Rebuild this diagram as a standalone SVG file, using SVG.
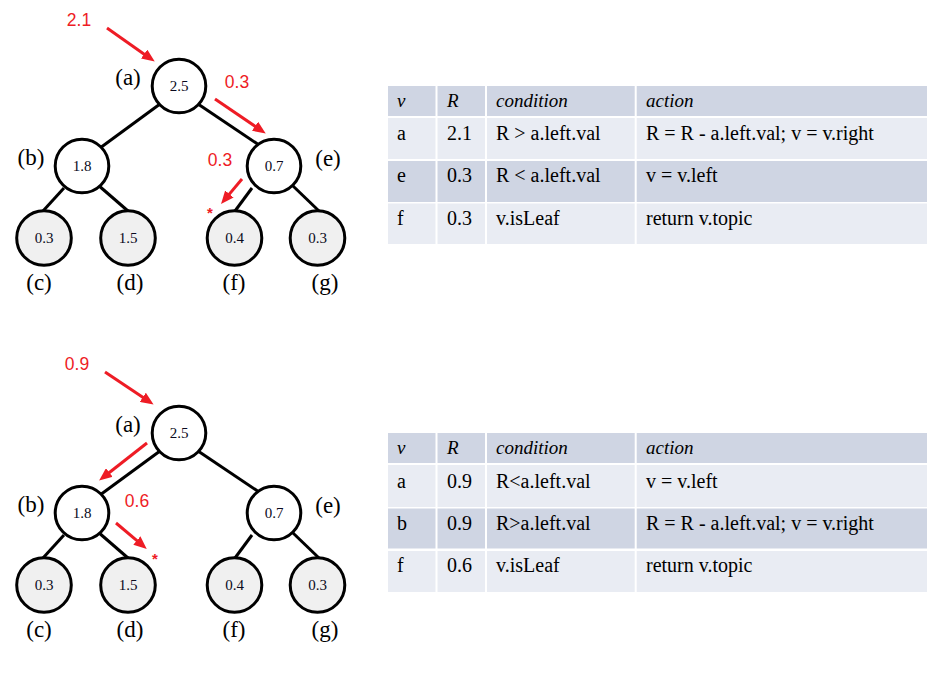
<svg xmlns="http://www.w3.org/2000/svg" width="945" height="695" viewBox="0 0 945 695">
<style>
.node{fill:#ffffff;stroke:#000000;stroke-width:3}
.leaf{fill:#f0f0f0;stroke:#000000;stroke-width:3}
.edge{stroke:#000000;stroke-width:3;fill:none}
.val{font-family:"Liberation Serif",serif;font-size:15px;fill:#0a0a20;text-anchor:middle}
.lbl{font-family:"Liberation Serif",serif;font-size:23px;fill:#000000;text-anchor:middle}
.red{font-family:"Liberation Sans",Arial,sans-serif;font-size:17.5px;fill:#ee1c25;text-anchor:middle}
.star{font-family:"Liberation Sans",Arial,sans-serif;font-size:15px;font-weight:bold;fill:#ee1c25;text-anchor:middle}
.arrow{stroke:#ee1c25;stroke-width:3;fill:none;marker-end:url(#ah)}
.hdr{fill:#cfd5e3}
.lt{fill:#e9ecf3}
.dk{fill:#cfd5e3}
.sep{fill:#ffffff}
.tx{font-family:"Liberation Serif",serif;font-size:20px;fill:#000000}
.th{font-family:"Liberation Serif",serif;font-size:19px;font-style:italic;fill:#000000}
</style>
<defs>
<marker id="ah" markerUnits="userSpaceOnUse" markerWidth="13" markerHeight="11" refX="4" refY="5.5" orient="auto">
<path d="M0,0 L13,5.5 L0,11 z" fill="#ee1c25"/>
</marker>
</defs>
<rect x="0" y="0" width="945" height="695" fill="#ffffff"/>

<!-- TOP TREE -->
<g id="connectors-top">
<line class="edge" x1="160" y1="104" x2="100" y2="148"/>
<line class="edge" x1="198" y1="104" x2="265" y2="149"/>
<line class="edge" x1="64" y1="188" x2="43" y2="211"/>
<line class="edge" x1="98" y1="185" x2="128" y2="211"/>
<line class="edge" x1="252" y1="188" x2="235" y2="211"/>
<line class="edge" x1="293" y1="186" x2="319" y2="211"/>
</g>
<g id="top-a"><circle class="node" cx="179" cy="86" r="26.8"/><text class="val" x="179" y="91">2.5</text><text class="lbl" x="128" y="85">(a)</text></g>
<g id="top-b"><circle class="node" cx="82" cy="166" r="26.8"/><text class="val" x="82" y="171">1.8</text><text class="lbl" x="31" y="165">(b)</text></g>
<g id="top-e"><circle class="node" cx="274" cy="166" r="26.8"/><text class="val" x="274" y="171">0.7</text><text class="lbl" x="328" y="166">(e)</text></g>
<g id="top-c"><circle class="leaf" cx="44" cy="238" r="27.3"/><text class="val" x="44" y="243">0.3</text><text class="lbl" x="39" y="290">(c)</text></g>
<g id="top-d"><circle class="leaf" cx="128" cy="238" r="27.3"/><text class="val" x="128" y="243">1.5</text><text class="lbl" x="130" y="290">(d)</text></g>
<g id="top-f"><circle class="leaf" cx="234.5" cy="238" r="27.3"/><text class="val" x="234.5" y="243">0.4</text><text class="lbl" x="234" y="290">(f)</text></g>
<g id="top-g"><circle class="leaf" cx="317.5" cy="238" r="27.3"/><text class="val" x="317.5" y="243">0.3</text><text class="lbl" x="325" y="290">(g)</text></g>
<g id="top-annotations">
<line class="arrow" x1="107" y1="28" x2="147.4" y2="56.4"/>
<line class="arrow" x1="215" y1="99" x2="258.3" y2="128.5"/>
<line class="arrow" x1="242" y1="179" x2="226.8" y2="197.1"/>
<text class="red" x="79" y="26">2.1</text>
<text class="red" x="237" y="88">0.3</text>
<text class="red" x="220" y="166">0.3</text>
<text class="star" x="210" y="218">*</text>
</g>

<!-- BOTTOM TREE -->
<g id="connectors-bottom">
<line class="edge" x1="160" y1="451" x2="100" y2="495"/>
<line class="edge" x1="198" y1="451" x2="265" y2="496"/>
<line class="edge" x1="64" y1="535" x2="43" y2="558"/>
<line class="edge" x1="98" y1="532" x2="128" y2="558"/>
<line class="edge" x1="252" y1="535" x2="235" y2="558"/>
<line class="edge" x1="293" y1="533" x2="319" y2="558"/>
</g>
<g id="bot-a"><circle class="node" cx="179" cy="433" r="26.8"/><text class="val" x="179" y="438">2.5</text><text class="lbl" x="128" y="432">(a)</text></g>
<g id="bot-b"><circle class="node" cx="82" cy="513" r="26.8"/><text class="val" x="82" y="518">1.8</text><text class="lbl" x="31" y="512">(b)</text></g>
<g id="bot-e"><circle class="node" cx="274" cy="513" r="26.8"/><text class="val" x="274" y="518">0.7</text><text class="lbl" x="328" y="513">(e)</text></g>
<g id="bot-c"><circle class="leaf" cx="44" cy="585" r="27.3"/><text class="val" x="44" y="590">0.3</text><text class="lbl" x="39" y="637">(c)</text></g>
<g id="bot-d"><circle class="leaf" cx="128" cy="585" r="27.3"/><text class="val" x="128" y="590">1.5</text><text class="lbl" x="130" y="637">(d)</text></g>
<g id="bot-f"><circle class="leaf" cx="234.5" cy="585" r="27.3"/><text class="val" x="234.5" y="590">0.4</text><text class="lbl" x="234" y="637">(f)</text></g>
<g id="bot-g"><circle class="leaf" cx="317.5" cy="585" r="27.3"/><text class="val" x="317.5" y="590">0.3</text><text class="lbl" x="325" y="637">(g)</text></g>
<g id="bottom-annotations">
<line class="arrow" x1="105" y1="372" x2="146.1" y2="399.5"/>
<line class="arrow" x1="147" y1="443" x2="106.2" y2="475"/>
<line class="arrow" x1="116" y1="523" x2="139.9" y2="543.1"/>
<text class="red" x="77" y="370">0.9</text>
<text class="red" x="137" y="507">0.6</text>
<text class="star" x="155" y="564">*</text>
</g>

<!-- TOP TABLE -->
<g id="table-top">
<rect class="hdr" x="388" y="86" width="539" height="30"/>
<rect class="lt" x="388" y="118" width="539" height="41"/>
<rect class="dk" x="388" y="161" width="539" height="41"/>
<rect class="lt" x="388" y="203.5" width="539" height="40.5"/>
<rect class="sep" x="435.5" y="86" width="2" height="158"/>
<rect class="sep" x="485" y="86" width="2" height="158"/>
<rect class="sep" x="634.7" y="86" width="2" height="158"/>
<text class="th" x="397" y="106.7">v</text>
<text class="th" x="447" y="106.7">R</text>
<text class="th" x="496" y="106.7">condition</text>
<text class="th" x="646" y="106.7">action</text>
<text class="tx" x="397" y="140">a</text>
<text class="tx" x="447" y="140">2.1</text>
<text class="tx" x="496" y="140">R &gt; a.left.val</text>
<text class="tx" x="646" y="140">R = R - a.left.val; v = v.right</text>
<text class="tx" x="397" y="182">e</text>
<text class="tx" x="447" y="182">0.3</text>
<text class="tx" x="496" y="182">R &lt; a.left.val</text>
<text class="tx" x="646" y="182">v = v.left</text>
<text class="tx" x="397" y="225">f</text>
<text class="tx" x="447" y="225">0.3</text>
<text class="tx" x="496" y="225">v.isLeaf</text>
<text class="tx" x="646" y="225">return v.topic</text>
</g>

<!-- BOTTOM TABLE -->
<g id="table-bottom">
<rect class="hdr" x="388" y="433" width="539" height="30"/>
<rect class="lt" x="388" y="465" width="539" height="42"/>
<rect class="dk" x="388" y="508.5" width="539" height="40"/>
<rect class="lt" x="388" y="551" width="539" height="41"/>
<rect class="sep" x="435.5" y="433" width="2" height="159"/>
<rect class="sep" x="485" y="433" width="2" height="159"/>
<rect class="sep" x="634.7" y="433" width="2" height="159"/>
<text class="th" x="397" y="454">v</text>
<text class="th" x="447" y="454">R</text>
<text class="th" x="496" y="454">condition</text>
<text class="th" x="646" y="454">action</text>
<text class="tx" x="397" y="488">a</text>
<text class="tx" x="447" y="488">0.9</text>
<text class="tx" x="496" y="488">R&lt;a.left.val</text>
<text class="tx" x="646" y="488">v = v.left</text>
<text class="tx" x="397" y="530">b</text>
<text class="tx" x="447" y="530">0.9</text>
<text class="tx" x="496" y="530">R&gt;a.left.val</text>
<text class="tx" x="646" y="530">R = R - a.left.val; v = v.right</text>
<text class="tx" x="397" y="572">f</text>
<text class="tx" x="447" y="572">0.6</text>
<text class="tx" x="496" y="572">v.isLeaf</text>
<text class="tx" x="646" y="572">return v.topic</text>
</g>
</svg>
